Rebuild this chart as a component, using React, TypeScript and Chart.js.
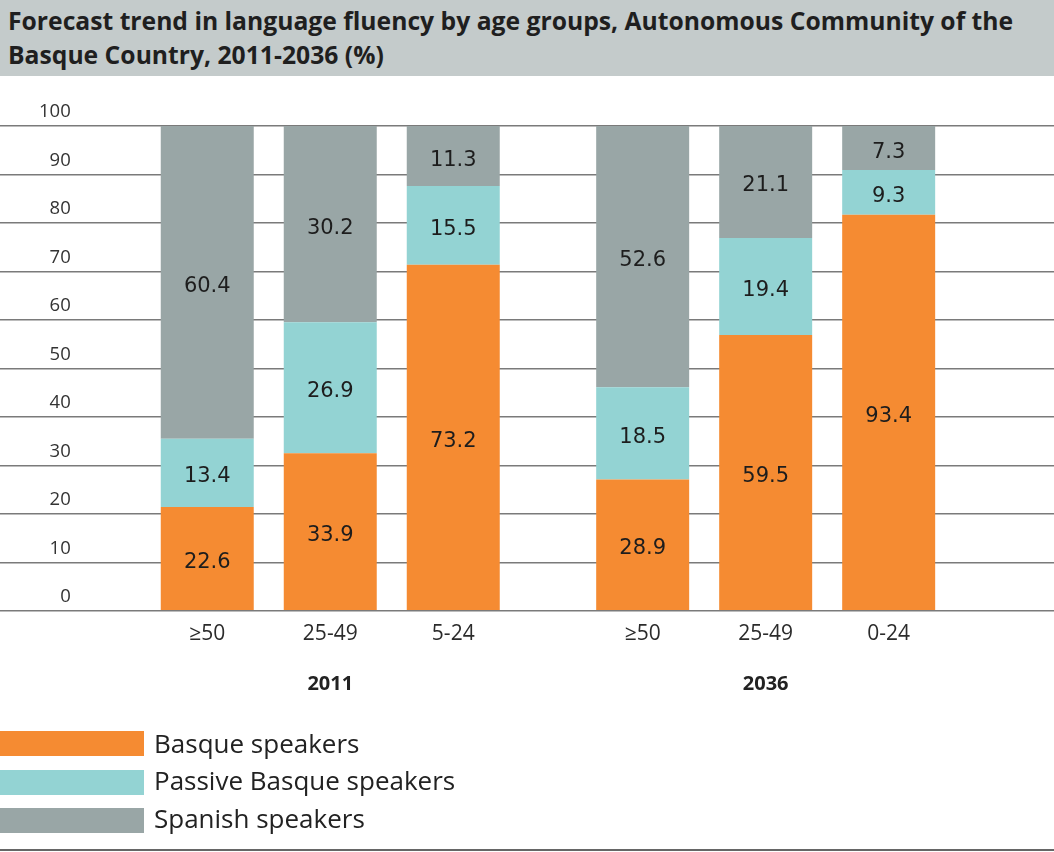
import React, { useEffect, useRef } from "react";
import { Chart, registerables } from "chart.js";

Chart.register(...registerables);

// ---- data ----
const titleLines = [
  "Forecast trend in language fluency by age groups, Autonomous Community of the",
  "Basque Country, 2011-2036 (%)",
];
const ageGroups = ["≥50", "25-49", "5-24", "≥50", "25-49", "0-24"];
const years = ["2011", "2036"];
const barsPerYear = 3;

// segment heights as drawn in the picture (%)
const basqueSpeakers = [21.4, 32.5, 71.4, 27.1, 56.9, 81.7];
const passiveBasqueSpeakers = [14.1, 27.0, 16.2, 19.0, 20.0, 9.2];
const spanishSpeakers = [64.5, 40.5, 12.4, 53.9, 23.1, 9.1];

// value labels as printed in the picture
const basqueLabels = ["22.6", "33.9", "73.2", "28.9", "59.5", "93.4"];
const passiveLabels = ["13.4", "26.9", "15.5", "18.5", "19.4", "9.3"];
const spanishLabels = ["60.4", "30.2", "11.3", "52.6", "21.1", "7.3"];

const seriesNames = ["Basque speakers", "Passive Basque speakers", "Spanish speakers"];
const seriesColors = ["#F58B32", "#93D3D3", "#99A6A6"];

const yMin = 0;
const yMax = 100;
const yStep = 10;

// ---- layout helpers ----
const yearGap = 0.54; // extra space between the two year groups, in bar slots
const xPos = ageGroups.map((_, i) => i + Math.floor(i / barsPerYear) * yearGap);
const yearCenters = years.map((_, g) => {
  const slice = xPos.slice(g * barsPerYear, (g + 1) * barsPerYear);
  return slice.reduce((a, b) => a + b, 0) / slice.length;
});
const X_MIN = -1.685;
const X_MAX = X_MIN + 1054 / 123;

const seriesValues = [basqueSpeakers, passiveBasqueSpeakers, spanishSpeakers];
const seriesLabels = [basqueLabels, passiveLabels, spanishLabels];

const valueLabelsPlugin = {
  id: "valueLabels",
  afterDatasetsDraw(chart: any) {
    const ctx = chart.ctx;
    ctx.save();
    ctx.font = '21px "DejaVu Sans"';
    ctx.fillStyle = "#1d1d1d";
    ctx.textAlign = "center";
    ctx.textBaseline = "middle";
    chart.data.datasets.forEach((_: any, di: number) => {
      const meta = chart.getDatasetMeta(di);
      const labels = seriesLabels[di];
      meta.data.forEach((bar: any, i: number) => {
        const { x, y, base } = bar.getProps(["x", "y", "base"], true);
        ctx.fillText(labels[i], x, (y + base) / 2 + 4);
      });
    });
    ctx.restore();
  },
};

function BasqueChart() {
  const ref = useRef<HTMLCanvasElement | null>(null);
  useEffect(() => {
    if (!ref.current) return;
    const chart = new Chart(ref.current, {
      type: "bar",
      data: {
        datasets: seriesNames.map((name, s) => ({
          label: name,
          data: seriesValues[s].map((v, i) => ({ x: xPos[i], y: v })),
          backgroundColor: seriesColors[s],
          borderWidth: 0,
          stack: "all",
          categoryPercentage: 1,
          barPercentage: 0.756,
        })),
      },
      options: {
        animation: false,
        responsive: false,
        maintainAspectRatio: false,
        layout: { padding: { top: 50, bottom: 16, left: 0, right: 0 } },
        plugins: {
          legend: { display: false },
          tooltip: { enabled: false },
          title: { display: false },
        },
        scales: {
          x: {
            type: "linear",
            position: "bottom",
            min: X_MIN,
            max: X_MAX,
            offset: false,
            weight: 0,
            grid: { display: false, offset: false, drawTicks: false },
            border: { display: false },
            afterBuildTicks: (s: any) => {
              s.ticks = xPos.map((v) => ({ value: v }));
            },
            afterFit: (s: any) => {
              s.paddingLeft = 0;
              s.paddingRight = 0;
            },
            ticks: {
              autoSkip: false,
              maxRotation: 0,
              padding: 11,
              color: "#2b2b2b",
              font: { family: "'Open Sans'", size: 21 },
              callback: (_v: any, i: number) => ageGroups[i],
            },
          },
          year: {
            type: "linear",
            position: "bottom",
            min: X_MIN,
            max: X_MAX,
            offset: false,
            weight: 1,
            grid: { display: false, offset: false, drawTicks: false },
            border: { display: false },
            afterBuildTicks: (s: any) => {
              s.ticks = yearCenters.map((v) => ({ value: v }));
            },
            afterFit: (s: any) => {
              s.paddingLeft = 0;
              s.paddingRight = 0;
            },
            ticks: {
              autoSkip: false,
              maxRotation: 0,
              padding: 14,
              color: "#222",
              font: { family: "'Open Sans'", size: 20, weight: "bold" },
              callback: (_v: any, i: number) => years[i],
            },
          },
          y: {
            stacked: true,
            min: yMin,
            max: yMax,
            grid: { color: "#7a7a7a", lineWidth: 1.5, drawTicks: false },
            border: { display: false },
            afterFit: (s: any) => {
              s.width = 0;
              s.paddingTop = 0;
              s.paddingBottom = 0;
            },
            ticks: {
              stepSize: yStep,
              mirror: true,
              crossAlign: "far",
              padding: 39,
              labelOffset: -14,
              color: "#333",
              font: { family: "'Open Sans'", size: 18.5 },
            },
          },
        },
      } as any,
      plugins: [valueLabelsPlugin],
    });
    return () => chart.destroy();
  }, []);
  return (
    <canvas
      ref={ref}
      width={1054}
      height={650}
      style={{ position: "absolute", left: 0, top: 76, width: 1054, height: 650 }}
    />
  );
}

export default function App() {
  return (
    <div
      style={{
        position: "fixed",
        left: 0,
        top: 0,
        width: 1054,
        height: 852,
        background: "#fff",
        overflow: "hidden",
        fontFamily: "'Open Sans', sans-serif",
      }}
    >
      <div
        style={{
          position: "absolute",
          left: 0,
          top: 0,
          width: 1054,
          height: 76,
          background: "#C4CBCB",
          color: "#1f1f1f",
          fontWeight: 700,
          fontSize: 24.7,
          lineHeight: "34px",
          paddingLeft: 8,
          paddingTop: 4,
          boxSizing: "border-box",
          whiteSpace: "nowrap",
        }}
      >
        {titleLines.map((t, i) => (
          <div key={i}>{t}</div>
        ))}
      </div>
      <BasqueChart />
      <div style={{ position: "absolute", left: 0, top: 731 }}>
        {seriesNames.map((name, s) => (
          <div
            key={name}
            style={{ display: "flex", alignItems: "center", height: 38.5 }}
          >
            <div style={{ width: 144, height: 25, background: seriesColors[s], marginTop: -13 }} />
            <div
              style={{
                marginLeft: 10,
                marginTop: -15 - s * 2,
                fontSize: 26,
                lineHeight: "26px",
                color: "#222",
              }}
            >
              {name}
            </div>
          </div>
        ))}
      </div>
      <div
        style={{
          position: "absolute",
          left: 0,
          top: 849,
          width: 1054,
          height: 2,
          background: "#666",
        }}
      />
    </div>
  );
}
